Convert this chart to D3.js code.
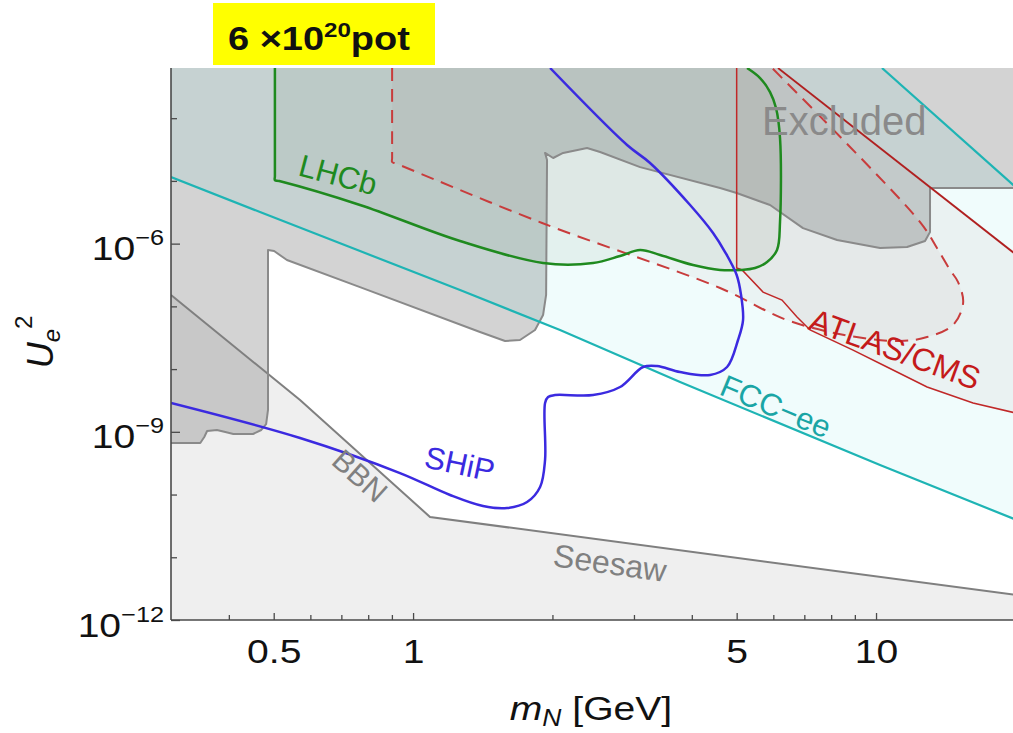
<!DOCTYPE html>
<html><head><meta charset="utf-8">
<script src="https://cdn.jsdelivr.net/npm/d3@7"></script>
<style>
body{margin:0;background:#fff}
svg{display:block}
text{font-family:"Liberation Sans",Arial,Helvetica,sans-serif}
</style>
</head><body>
<svg id="chart" width="1013" height="733"></svg>
<script>
// ---------- data (mass in GeV, U_e^2) ----------
const massDomain = [0.3, 20];
const u2Domain = [1e-12, 6.31e-4];
const massTicksMajor = [0.5, 1, 5, 10];
const massTickLabels = ["0.5", "1", "5", "10"];
const massTicksMinor = [0.4, 0.6, 0.7, 0.8, 0.9, 2, 3, 4, 6, 7, 8, 9];
const u2TicksMajor = [1e-12, 1e-9, 1e-6];
const u2TickExponents = ["\u221212", "\u22129", "\u22126"];
const u2TicksMinor = [1e-11, 1e-10, 1e-8, 1e-7, 1e-5, 1e-4];

const seesawBBN = [[0.3,1.52e-7],[0.570,3.21e-9],[1.088,4.39e-11],[20,2.51e-12]];

const excludedBoundary = [
  [0.3,6.64e-10],[0.347,6.64e-10],[0.354,8.26e-10],[0.359,1.03e-9],[0.377,1.07e-9],
  [0.393,9.93e-10],[0.409,9.23e-10],[0.451,9.23e-10],[0.470,1.07e-9],[0.4815,1.33e-9],
  [0.486,2.23e-9],[0.486,7.91e-7],[0.501,7.62e-7],[0.534,5.48e-7],[0.768,2.03e-7],
  [1.395,3.90e-8],[1.580,2.81e-8],[1.702,2.91e-8],[1.834,4.20e-8],[1.909,7.28e-8],
  [1.938,1.52e-7],[1.947,2.15e-5],[1.928,2.79e-5],[2.007,2.32e-5],[2.109,2.79e-5],
  [2.376,3.34e-5],[2.535,2.89e-5],[3.093,1.66e-5],[4.604,7.71e-6],[5.0,6.41e-6],
  [5.903,4.13e-6],[6.954,1.77e-6],[8.238,1.14e-6],[10.2,8.51e-7],[11.67,8.83e-7],
  [12.76,1.10e-6],[13.08,1.53e-6],[13.08,7.71e-6],[20,7.71e-6]
];

const fccLower = [[0.3,1.15e-5],[0.467,3.19e-6],[0.768,7.62e-7],[1.263,1.82e-7],
  [2.077,4.20e-8],[3.773,6.22e-9],[10.2,2.96e-10],[20,4.0e-11]];
const fccUpper = [[10.3,6.31e-4],[20,8.0e-6]];

const lhcb = [[0.503,6.31e-4],[0.503,1.20e-5],[0.503,1.03e-5],[0.514,9.95e-6],[0.768,4.13e-6],
  [1.263,1.10e-6],[1.909,4.91e-7],[2.448,4.91e-7],[2.80,6.35e-7],[3.093,7.91e-7],
  [3.416,6.59e-7],[4.025,4.56e-7],[4.604,3.80e-7],[5.085,3.80e-7],[5.479,4.08e-7],
  [5.816,5.09e-7],[6.111,7.91e-7],[6.203,2.21e-6],[6.203,4.83e-5],[6.081,1.45e-4],
  [5.903,2.61e-4],[5.617,4.37e-4],[5.265,6.31e-4]];

const ship = [[0.3,2.88e-9],[0.570,7.96e-10],[0.937,2.20e-10],[1.202,9.84e-11],[1.416,6.56e-11],
  [1.596,6.10e-11],[1.763,7.60e-11],[1.881,1.32e-10],[1.928,3.56e-10],[1.928,2.88e-9],
  [1.957,3.59e-9],[2.026,3.86e-9],[2.448,3.86e-9],[2.80,5.18e-9],[3.139,1.08e-8],
  [3.365,1.12e-8],[3.773,8.97e-9],[4.381,8.05e-9],[4.767,1.08e-8],[5.034,2.91e-8],
  [5.161,6.05e-8],[5.11,1.52e-7],[5.0,3.16e-7],[4.72,7.35e-7],[4.446,1.48e-6],
  [3.966,4.13e-6],[3.25,1.93e-5],[2.899,3.73e-5],[1.977,6.31e-4]];

const atlasLower = [[5.0,6.31e-4],[5.0,4.08e-7],[5.136,3.80e-7],[5.701,1.69e-7],[6.265,1.26e-7],
  [6.75,6.76e-8],[7.202,4.20e-8],[8.92,2.01e-8],[10.56,1.08e-8],[12.89,5.18e-9],
  [16.2,2.88e-9],[20,2.0e-9]];
const atlasUpper = [[6.141,6.31e-4],[20,6.8e-7]];

const atlasDashed = [[0.901,6.31e-4],[0.901,2.32e-5],[0.901,2.00e-5],[0.919,1.89e-5],[1.90,2.13e-6],
  [4.604,1.96e-7],[6.423,6.05e-8],[8.788,3.37e-8],[11.27,2.81e-8],[12.89,3.24e-8],
  [14.67,5.05e-8],[15.42,1.13e-7],[15.04,2.44e-7],[14.45,3.80e-7],[13.54,8.51e-7],
  [12.45,2.21e-6],[5.962,6.31e-4]];

// ---------- setup ----------
const svg = d3.select("#chart");
const x = d3.scaleLog().domain(massDomain).range([171, 1015.4]);
const y = d3.scaleLog().domain(u2Domain).range([620, 68]);
const X0 = 171, X1 = 1013, Y0 = 68, Y1 = 620;

svg.append("defs").append("clipPath").attr("id","plotclip")
  .append("rect").attr("x",X0).attr("y",Y0).attr("width",X1-X0).attr("height",Y1-Y0);

const lin = d3.line().x(d=>x(d[0])).y(d=>y(d[1]));
const smooth = d3.line().x(d=>x(d[0])).y(d=>y(d[1])).curve(d3.curveCatmullRom.alpha(0.5));
const [xa, xb] = massDomain, [ya, yb] = u2Domain;

const plot = svg.append("g").attr("clip-path","url(#plotclip)");

// fills
plot.append("path").attr("d", lin([...seesawBBN,[xb,ya],[xa,ya]]) + "Z").attr("fill","#efefef");
plot.append("path").attr("d", lin([...excludedBoundary,[xb,yb*1.5],[xa,yb*1.5]]) + "Z")
  .attr("fill","rgb(110,110,110)").attr("fill-opacity",0.3);
plot.append("path").attr("d", lin([...fccLower, ...fccUpper.slice().reverse(), [xa,yb*1.5]]) + "Z")
  .attr("fill","rgb(0,210,210)").attr("fill-opacity",0.058);
plot.append("path").attr("d", smooth([...lhcb,[lhcb[0][0],yb*1.5]]) + "Z")
  .attr("fill","rgb(60,100,60)").attr("fill-opacity",0.07);
plot.append("path").attr("d", smooth(atlasDashed) + "Z")
  .attr("fill","rgb(140,70,70)").attr("fill-opacity",0.05);
plot.append("path").attr("d", lin([...atlasLower, ...atlasUpper.slice().reverse()]) + "Z")
  .attr("fill","rgb(150,80,80)").attr("fill-opacity",0.06);

// strokes
plot.append("path").attr("d", lin(seesawBBN)).attr("fill","none").attr("stroke","#7f7f7f").attr("stroke-width",2);
plot.append("path").attr("d", lin(excludedBoundary)).attr("fill","none").attr("stroke","#8a8a8a")
  .attr("stroke-width",2).attr("stroke-linejoin","round");
plot.append("path").attr("d", lin(fccLower)).attr("fill","none").attr("stroke","#1eb4b4").attr("stroke-width",2.2);
plot.append("path").attr("d", lin(fccUpper)).attr("fill","none").attr("stroke","#1eb4b4").attr("stroke-width",2.2);
plot.append("path").attr("d", smooth(atlasDashed)).attr("fill","none").attr("stroke","#c83c3c")
  .attr("stroke-width",2).attr("stroke-dasharray","13,8");
plot.append("path").attr("d", lin(atlasLower)).attr("fill","none").attr("stroke","#c02828").attr("stroke-width",1.5);
plot.append("path").attr("d", lin(atlasUpper)).attr("fill","none").attr("stroke","#b02020").attr("stroke-width",1.8);
plot.append("path").attr("d", smooth(lhcb)).attr("fill","none").attr("stroke","#1f8a1f").attr("stroke-width",2.5);
plot.append("path").attr("d", smooth(ship)).attr("fill","none").attr("stroke","#3b2ae0").attr("stroke-width",2.5);

// ---------- axes ----------
const SX = 1.15;
const axisColor = "#4a4a4a";
function styleAxis(g){
  g.selectAll("path.domain").attr("stroke",axisColor).attr("stroke-width",1.6);
  g.selectAll(".tick line").attr("stroke",axisColor).attr("stroke-width",1.3);
}
const gxMinor = svg.append("g").attr("transform",`translate(0,${Y1})`)
  .call(d3.axisBottom(x).tickValues(massTicksMinor).tickSize(-5).tickSizeOuter(0).tickFormat(()=>""));
styleAxis(gxMinor);
gxMinor.select("path.domain").attr("d",`M${X0},0H${X1}`);
const gx = svg.append("g").attr("transform",`translate(0,${Y1})`)
  .call(d3.axisBottom(x).tickValues(massTicksMajor).tickSize(-7).tickSizeOuter(0).tickPadding(19)
    .tickFormat((d,i)=>massTickLabels[i]));
styleAxis(gx);
gx.select("path.domain").remove();
gx.selectAll(".tick text").attr("font-size",34).attr("fill","#111")
  .attr("font-family",'"Liberation Sans",Arial,sans-serif')
  .attr("transform",`scale(${SX},1)`);

const gyMinor = svg.append("g").attr("transform",`translate(${X0},0)`)
  .call(d3.axisLeft(y).tickValues(u2TicksMinor).tickSize(-6).tickSizeOuter(0).tickFormat(()=>""));
styleAxis(gyMinor);
gyMinor.select("path.domain").attr("d",`M0,${Y0}V${Y1}`);
const gy = svg.append("g").attr("transform",`translate(${X0},0)`)
  .call(d3.axisLeft(y).tickValues(u2TicksMajor).tickSize(-9).tickSizeOuter(0).tickFormat(()=>""));
styleAxis(gy);
gy.select("path.domain").remove();
gy.selectAll(".tick text").remove();
gy.selectAll(".tick").each(function(d,i){
  const t = d3.select(this).append("text")
    .attr("transform",`translate(-7,16) scale(${SX},1)`)
    .attr("text-anchor","end").attr("fill","#111").attr("font-size",34);
  t.append("tspan").text("10");
  t.append("tspan").attr("dy",-15).attr("font-size",22).text(u2TickExponents[i]);
});

// axis titles
const xt = svg.append("text").attr("transform",`translate(591,720) scale(${SX},1)`)
  .attr("text-anchor","middle").attr("font-size",34).attr("fill","#111");
xt.append("tspan").attr("font-style","italic").text("m");
xt.append("tspan").attr("font-style","italic").attr("font-size",23).attr("dy",6).text("N");
xt.append("tspan").attr("dy",-6).text(" [GeV]");

const yt = svg.append("text").attr("transform","translate(53,342) rotate(-90)")
  .attr("text-anchor","middle").attr("font-size",36).attr("fill","#111");
yt.append("tspan").attr("font-style","italic").text("U");
yt.append("tspan").attr("font-style","italic").attr("font-size",24).attr("dy",7).text("e");
yt.append("tspan").attr("font-size",24).attr("dy",-28).text("2");

// title box
svg.append("rect").attr("x",213).attr("y",3).attr("width",222).attr("height",62).attr("fill","#ffff00");
const tt = svg.append("text").attr("transform",`translate(228,50) scale(${SX},1)`)
  .attr("font-size",33).attr("font-weight","bold").attr("fill","#111");
tt.append("tspan").text("6 \u00d710");
tt.append("tspan").attr("font-size",21).attr("dy",-13).text("20");
tt.append("tspan").attr("dy",13).text("pot");

// region labels
function label(txt, px, py, rot, size, color){
  return svg.append("text").attr("transform",`translate(${px},${py}) rotate(${rot})`)
    .attr("font-size",size).attr("fill",color).text(txt);
}
label("Excluded", 762, 135, 0, 40, "#8a8a8a");
label("LHCb", 297, 175, 15, 31, "#1f8a1f");
label("SHiP", 423, 467, 12, 31, "#3b2ae0");
label("BBN", 330, 463, 42, 30, "#808080");
label("Seesaw", 552, 566, 8, 32, "#808080");
label("FCC\u2212ee", 718, 394, 22.6, 31, "#1aa5a5");
label("ATLAS/CMS", 807, 329, 20, 32, "#c41a1a");
</script>
</body></html>
